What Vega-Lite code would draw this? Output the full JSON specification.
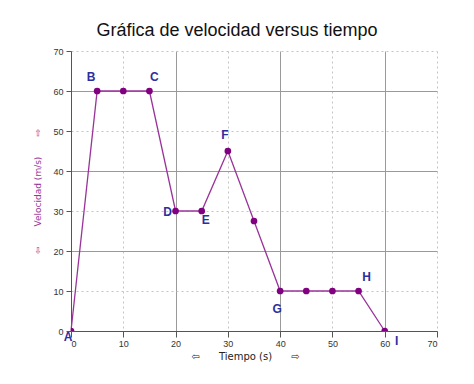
{
  "$schema": "https://vega.github.io/schema/vega-lite/v6.json",
  "width": 366,
  "height": 280,
  "autosize": {"type": "none"},
  "padding": {"left": 71, "top": 51, "right": 37, "bottom": 53},
  "background": "white",
  "title": {
    "text": "Gráfica de velocidad versus tiempo",
    "font": "Liberation Sans",
    "fontSize": 18,
    "fontWeight": "normal",
    "color": "#111",
    "anchor": "middle",
    "dx": -17,
    "offset": 7
  },
  "config": {
    "view": {"stroke": null},
    "font": "Liberation Sans"
  },
  "data": {
    "values": [
      {"t": 0, "v": 0, "label": "A"},
      {"t": 5, "v": 60, "label": "B"},
      {"t": 10, "v": 60, "label": ""},
      {"t": 15, "v": 60, "label": "C"},
      {"t": 20, "v": 30, "label": "D"},
      {"t": 25, "v": 30, "label": "E"},
      {"t": 30, "v": 45, "label": "F"},
      {"t": 35, "v": 27.5, "label": ""},
      {"t": 40, "v": 10, "label": "G"},
      {"t": 45, "v": 10, "label": ""},
      {"t": 50, "v": 10, "label": ""},
      {"t": 55, "v": 10, "label": "H"},
      {"t": 60, "v": 0, "label": "I"}
    ]
  },
  "encoding": {
    "x": {
      "field": "t",
      "type": "quantitative",
      "scale": {"domain": [0, 70], "nice": false},
      "axis": {
        "values": [0, 10, 20, 30, 40, 50, 60, 70],
        "title": "⇦\u00a0\u00a0\u00a0\u00a0\u00a0\u00a0Tiempo (s)\u00a0\u00a0\u00a0\u00a0\u00a0\u00a0⇨",
        "titleFont": "DejaVu Sans",
        "titleFontSize": 10,
        "titleFontWeight": "normal",
        "titleColor": "#222",
        "titlePadding": 3,
        "titleX": 174,
        "labelFontSize": 9,
        "labelColor": "#333",
        "labelPadding": 2,
        "tickSize": 6,
        "tickColor": "#555",
        "domainColor": "#555",
        "grid": true,
        "gridColor": {"condition": {"test": "datum.value % 20 === 0", "value": "#9a9a9a"}, "value": "#c4c4c4"},
        "gridDash": {"condition": {"test": "datum.value % 20 === 0", "value": []}, "value": [2, 3]}
      }
    },
    "y": {
      "field": "v",
      "type": "quantitative",
      "scale": {"domain": [0, 70], "nice": false},
      "axis": {
        "values": [0, 10, 20, 30, 40, 50, 60, 70],
        "title": "⇦\u00a0\u00a0\u00a0\u00a0\u00a0\u00a0\u00a0Velocidad (m/s)\u00a0\u00a0\u00a0\u00a0\u00a0\u00a0\u00a0⇨",
        "titleFont": "DejaVu Sans",
        "titleFontSize": 9,
        "titleFontWeight": "normal",
        "titleColor": "#993399",
        "titlePadding": 10,
        "labelFontSize": 9,
        "labelColor": "#333",
        "labelPadding": 3,
        "tickSize": 5,
        "tickColor": "#555",
        "domainColor": "#555",
        "grid": true,
        "gridColor": {"condition": {"test": "datum.value % 20 === 0", "value": "#9a9a9a"}, "value": "#c4c4c4"},
        "gridDash": {"condition": {"test": "datum.value % 20 === 0", "value": []}, "value": [2, 3]}
      }
    }
  },
  "layer": [
    {"mark": {"type": "line", "color": "#993399", "strokeWidth": 1.3}},
    {"mark": {"type": "point", "filled": true, "color": "#800080", "opacity": 1, "size": 45, "clip": true}},
    {
      "transform": [{"filter": "datum.label === 'A'"}],
      "mark": {"type": "text", "color": "#2e2e9e", "fontWeight": "bold", "fontSize": 12, "dx": -3, "dy": 6},
      "encoding": {"text": {"field": "label"}}
    },
    {
      "transform": [{"filter": "datum.label === 'B'"}],
      "mark": {"type": "text", "color": "#2e2e9e", "fontWeight": "bold", "fontSize": 12, "dx": -6, "dy": -14},
      "encoding": {"text": {"field": "label"}}
    },
    {
      "transform": [{"filter": "datum.label === 'C'"}],
      "mark": {"type": "text", "color": "#2e2e9e", "fontWeight": "bold", "fontSize": 12, "dx": 5, "dy": -14},
      "encoding": {"text": {"field": "label"}}
    },
    {
      "transform": [{"filter": "datum.label === 'D'"}],
      "mark": {"type": "text", "color": "#2e2e9e", "fontWeight": "bold", "fontSize": 12, "dx": -8, "dy": 1},
      "encoding": {"text": {"field": "label"}}
    },
    {
      "transform": [{"filter": "datum.label === 'E'"}],
      "mark": {"type": "text", "color": "#2e2e9e", "fontWeight": "bold", "fontSize": 12, "dx": 4, "dy": 9},
      "encoding": {"text": {"field": "label"}}
    },
    {
      "transform": [{"filter": "datum.label === 'F'"}],
      "mark": {"type": "text", "color": "#2e2e9e", "fontWeight": "bold", "fontSize": 12, "dx": -3, "dy": -16},
      "encoding": {"text": {"field": "label"}}
    },
    {
      "transform": [{"filter": "datum.label === 'G'"}],
      "mark": {"type": "text", "color": "#2e2e9e", "fontWeight": "bold", "fontSize": 12, "dx": -3, "dy": 18},
      "encoding": {"text": {"field": "label"}}
    },
    {
      "transform": [{"filter": "datum.label === 'H'"}],
      "mark": {"type": "text", "color": "#2e2e9e", "fontWeight": "bold", "fontSize": 12, "dx": 8, "dy": -14},
      "encoding": {"text": {"field": "label"}}
    },
    {
      "transform": [{"filter": "datum.label === 'I'"}],
      "mark": {"type": "text", "color": "#2e2e9e", "fontWeight": "bold", "fontSize": 12, "dx": 12, "dy": 10},
      "encoding": {"text": {"field": "label"}}
    }
  ]
}
